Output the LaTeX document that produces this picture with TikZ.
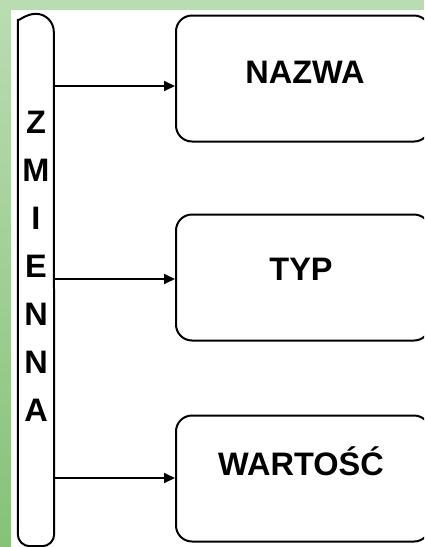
\documentclass[tikz,border=0pt]{standalone}
\usepackage{fontspec}
\setmainfont{Liberation Sans}
\usetikzlibrary{arrows.meta}
\definecolor{bgtop}{HTML}{B9DCB1}
\definecolor{bgbot}{HTML}{86C278}
\tikzset{
  line/.style={line width=2pt, black},
  box/.style={line, draw, rounded corners=16pt, minimum width=254pt, minimum height=126pt, inner sep=0pt},
  word/.style={font=\bfseries\fontsize{32.5}{32.5}\selectfont, anchor=base, inner sep=0pt},
  link/.style={line, -{Triangle[length=11pt,width=10pt]}},
}
\begin{document}
\begin{tikzpicture}[x=1pt,y=-1pt]
    \clip (0,0) rectangle (424,547);
    % Background frame
    \fill[bgtop] (0,0) rectangle (424,10);
    \shade[top color=bgtop, bottom color=bgbot] (0,10) rectangle (11,547);
    \fill[white] (11,10) rectangle (424,547);

    % Vertical pill with the word
    \node[minimum width=36pt, minimum height=532pt, inner sep=0pt] (var) at (36,280) {};
    \draw[line] ([yshift=-18pt]var.north west) arc[start angle=180, end angle=0, radius=18pt]
        [rounded corners=12pt] -- (var.south east) -- (var.south west) -- cycle;
    \foreach \ch [count=\i from 0] in {Z,M,I,E,N,N,A}
        \node[word, anchor=center] (ch\i) at (36,{122+48*\i}) {\ch};

    % Boxes on the right
    \node[box] (nazwa) at (303,78.5) {};
    \node[box] (typ) at (303,277.5) {};
    \node[box] (wartosc) at (303,478.5) {};
    \node[word] (nazwa-t) at (305,83) {NAZWA};
    \node[word] (typ-t) at (301,280) {TYP};
    \node[word] (wartosc-t) at (301,475) {WARTOŚĆ};

    % Arrows
    \coordinate (a1) at (nazwa.west |- 0,86);
    \coordinate (a2) at (typ.west |- 0,279);
    \coordinate (a3) at (wartosc.west |- 0,478);
    \draw[link] (var.east |- a1) -- (a1);
    \draw[link] (var.east |- a2) -- (a2);
    \draw[link] (var.east |- a3) -- (a3);
\end{tikzpicture}
\end{document}
